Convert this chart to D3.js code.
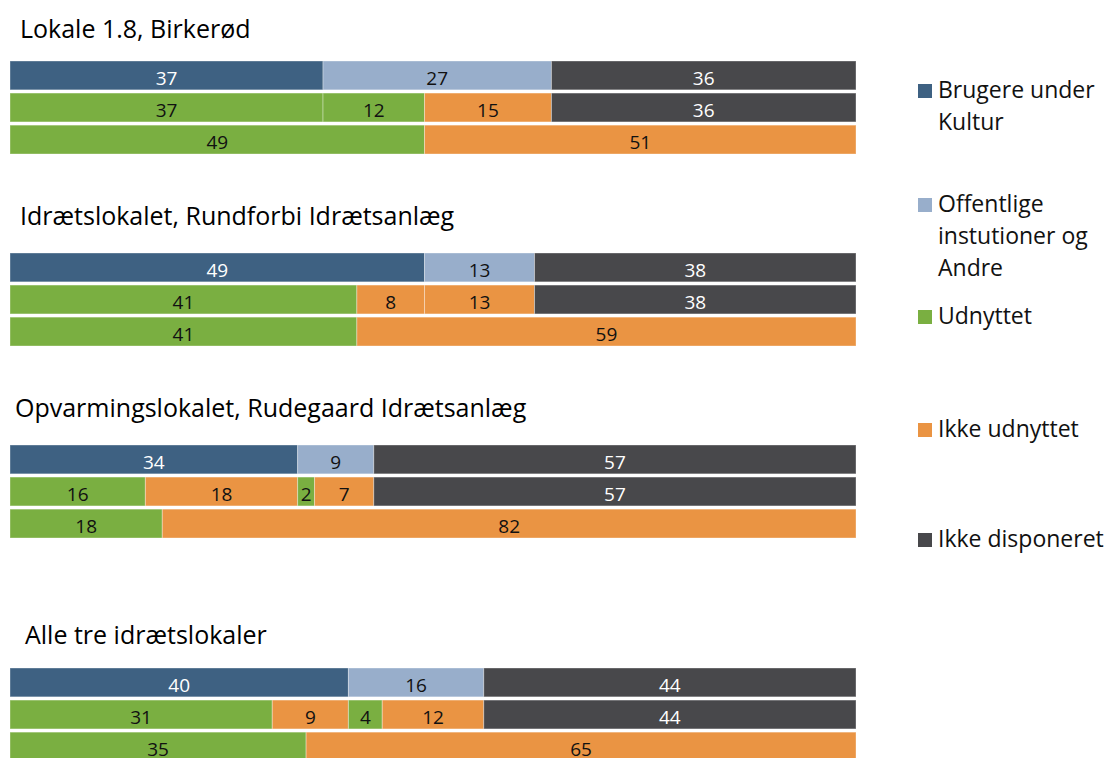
<!DOCTYPE html>
<html>
<head>
<meta charset="utf-8">
<script src="https://cdn.jsdelivr.net/npm/d3@7"></script>
<style>
  body { margin: 0; background: #fff; }
  svg { display: block; font-family: "Open Sans", Lato, sans-serif; }
</style>
</head>
<body>
<div id="chart"></div>
<script>
const width = 1110, height = 758;

// data
const groups = ["Lokale 1.8, Birkerød", "Idrætslokalet, Rundforbi Idrætsanlæg",
  "Opvarmingslokalet, Rudegaard Idrætsanlæg", "Alle tre idrætslokaler"];
const kultur = [37, 49, 34, 40];
const offentlige = [27, 13, 9, 16];
const ikkeDisponeret = [36, 38, 57, 44];
const kulturUdnyttet = [37, 41, 16, 31];
const kulturIkkeUdnyttet = [0, 8, 18, 9];
const offUdnyttet = [12, 0, 2, 4];
const offIkkeUdnyttet = [15, 13, 7, 12];
const udnyttetTotal = [49, 41, 18, 35];
const ikkeUdnyttetTotal = [51, 59, 82, 65];

const legendLabels = [["Brugere under", "Kultur"], ["Offentlige", "instutioner og", "Andre"],
  ["Udnyttet"], ["Ikke udnyttet"], ["Ikke disponeret"]];

const colors = {
  kultur: "#3e6182", off: "#98aecb", udn: "#7aaf41", ikke: "#ea9443", disp: "#48484b"
};
const textColor = { kultur: "#fff", off: "#111", udn: "#111", ikke: "#111", disp: "#fff" };

// layout
const groupTop = [61, 253, 445, 668];
const titleX = [20, 20, 15, 25];
const titleGap = [23, 28, 28, 24];

const svg = d3.select("#chart").append("svg")
  .attr("width", width).attr("height", height);

const x = d3.scaleLinear().domain([0, 100]).range([10, 856]);
const row = d3.scaleBand().domain([0, 1, 2]).range([0, 93]).paddingInner(0.1);

groups.forEach((name, i) => {
  const rows = [
    [["kultur", kultur[i]], ["off", offentlige[i]], ["disp", ikkeDisponeret[i]]],
    [["udn", kulturUdnyttet[i]], ["ikke", kulturIkkeUdnyttet[i]], ["udn", offUdnyttet[i]],
     ["ikke", offIkkeUdnyttet[i]], ["disp", ikkeDisponeret[i]]],
    [["udn", udnyttetTotal[i]], ["ikke", ikkeUdnyttetTotal[i]]]
  ];

  const g = svg.append("g").attr("transform", `translate(0,${groupTop[i]})`);

  g.append("text")
    .attr("x", titleX[i])
    .attr("y", -titleGap[i])
    .attr("font-size", 25)
    .attr("font-weight", 500)
    .attr("fill", "#000")
    .text(name);

  rows.forEach((segs, r) => {
    let acc = 0;
    const data = segs.map(([key, v]) => {
      const d = { key, v, x0: acc, x1: acc + v };
      acc += v;
      return d;
    }).filter(d => d.v > 0);

    const rg = g.append("g").attr("transform", `translate(0,${row(r)})`);

    rg.selectAll("rect")
      .data(data)
      .join("rect")
      .attr("x", d => x(d.x0))
      .attr("width", d => x(d.x1) - x(d.x0))
      .attr("y", 0)
      .attr("height", row.bandwidth())
      .attr("fill", d => colors[d.key])
      .attr("stroke", "rgba(255,255,255,0.35)")
      .attr("stroke-width", 1);

    rg.selectAll("text")
      .data(data)
      .join("text")
      .attr("x", d => x((d.x0 + d.x1) / 2))
      .attr("y", row.bandwidth() - 5)
      .attr("text-anchor", "middle")
      .attr("font-size", 19)
      .attr("fill", d => textColor[d.key])
      .text(d => d.v);
  });
});

// legend
const legendKeys = ["kultur", "off", "udn", "ikke", "disp"];
const legendY = [98, 212, 324, 437, 547];
const legend = svg.append("g");
legendKeys.forEach((k, i) => {
  legend.append("rect")
    .attr("x", 918).attr("y", legendY[i] - 14)
    .attr("width", 14).attr("height", 14)
    .attr("fill", colors[k]);
  const t = legend.append("text")
    .attr("x", 938).attr("y", legendY[i])
    .attr("font-size", 23)
    .attr("fill", "#111");
  legendLabels[i].forEach((line, j) => {
    t.append("tspan").attr("x", 938).attr("dy", j === 0 ? 0 : 32).text(line);
  });
});
</script>
</body>
</html>
